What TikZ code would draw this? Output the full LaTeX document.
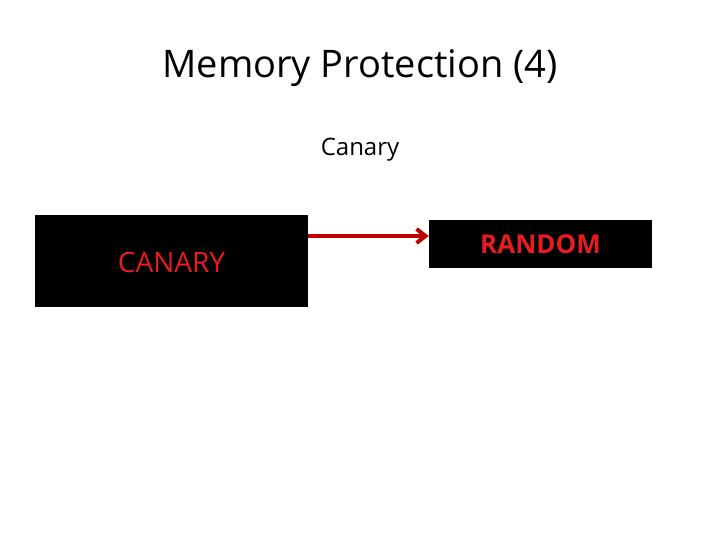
\documentclass[tikz,border=0pt]{standalone}
\usepackage{fontspec}
\setmainfont{Open Sans}
\usetikzlibrary{arrows.meta}
\definecolor{dred}{HTML}{C00000}
\definecolor{tred}{HTML}{E81C1C}
\begin{document}
\begin{tikzpicture}[x=1pt,y=-1pt,
  box/.style={fill=black,draw=none,inner sep=0pt}]
\useasboundingbox (0,0) rectangle (720,540);
\node[font=\fontsize{38}{44}\selectfont] (title) at (360,68) {Memory Protection (4)};
\node[font=\fontsize{24}{28}\selectfont] (sub) at (360,150) {Canary};
\node[box,minimum width=273pt,minimum height=92pt] (left) at (171.5,261) {};
\node[text=tred,font=\fontsize{28}{32}\selectfont] (lt) at (171.5,262) {CANARY};
\node[box,minimum width=223pt,minimum height=48pt] (right) at (540.5,244) {};
\node[text=tred,font=\bfseries\fontsize{26}{30}\selectfont] (rt) at (540.5,244) {RANDOM};
\draw[dred,line width=4pt,-{Straight Barb[length=9pt,width=14pt]}] (left.east|-0,236) -- (right.west|-0,236);
\end{tikzpicture}
\end{document}
